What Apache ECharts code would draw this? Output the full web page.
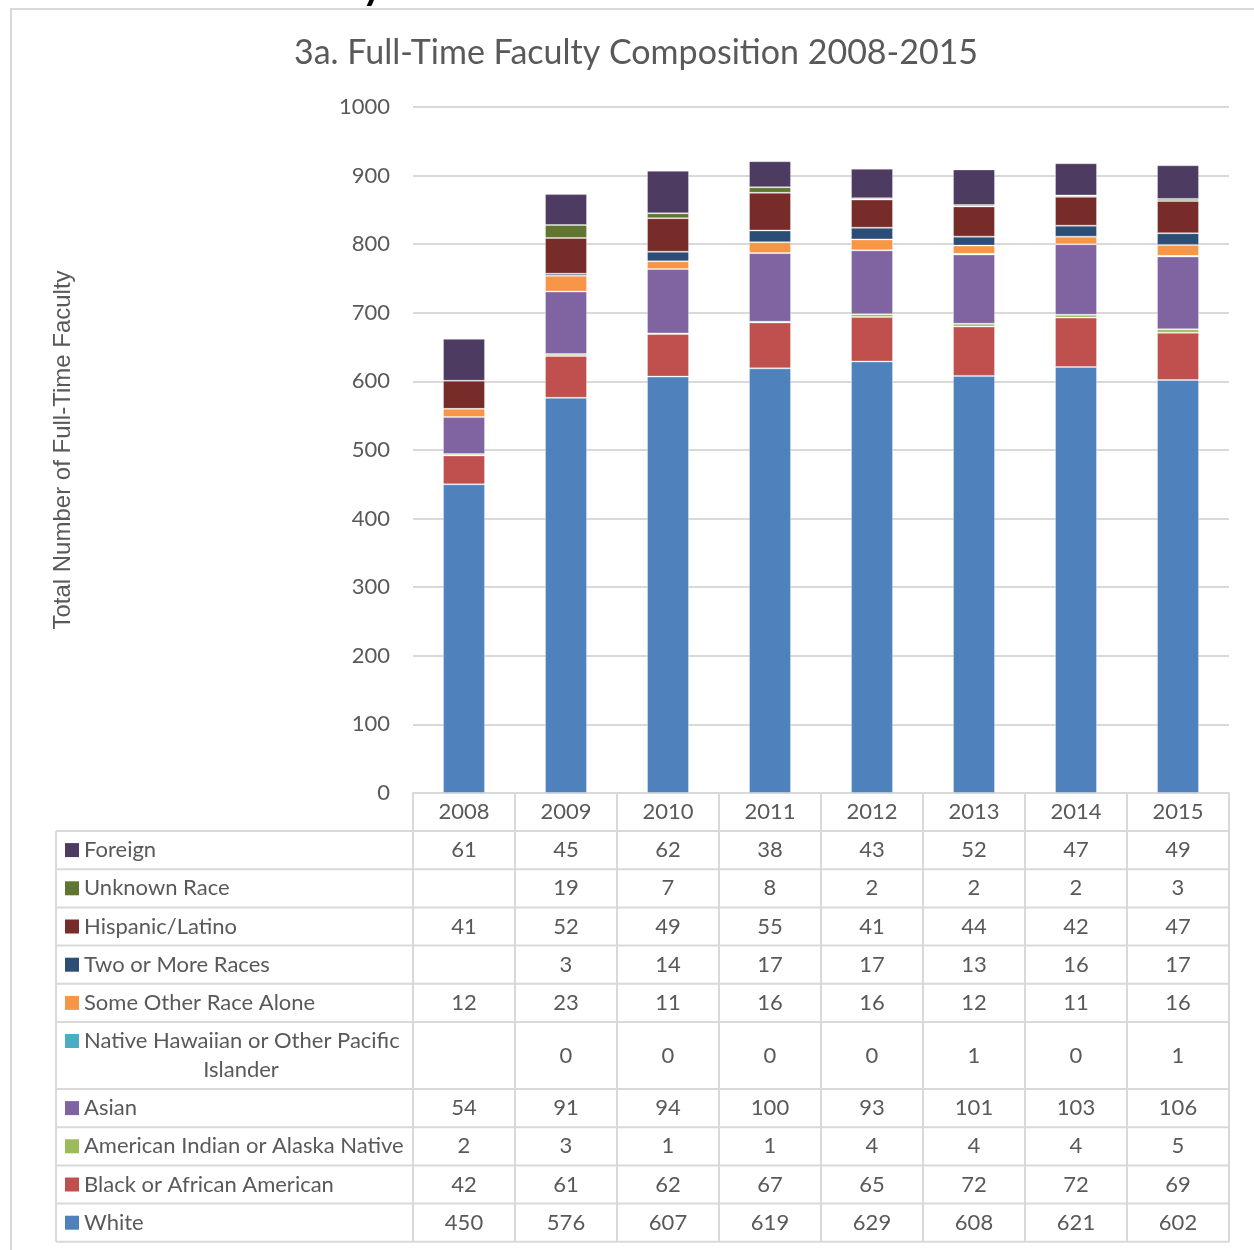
<!DOCTYPE html>
<html>
<head>
<meta charset="utf-8">
<script src="https://cdn.jsdelivr.net/npm/echarts@6/dist/echarts.min.js"></script>
<style>
  html, body { margin: 0; padding: 0; background: #fff; }
  #chart { width: 1254px; height: 1250px; }
</style>
</head>
<body>
<div id="chart"></div>
<script>
// Datos
const years = ['2008', '2009', '2010', '2011', '2012', '2013', '2014', '2015'];
const white = [450, 576, 607, 619, 629, 608, 621, 602];
const black = [42, 61, 62, 67, 65, 72, 72, 69];
const amIndian = [2, 3, 1, 1, 4, 4, 4, 5];
const asian = [54, 91, 94, 100, 93, 101, 103, 106];
const nativeHawaiian = [null, 0, 0, 0, 0, 1, 0, 1];
const someOther = [12, 23, 11, 16, 16, 12, 11, 16];
const twoOrMore = [null, 3, 14, 17, 17, 13, 16, 17];
const hispanic = [41, 52, 49, 55, 41, 44, 42, 47];
const unknownRace = [null, 19, 7, 8, 2, 2, 2, 3];
const foreign = [61, 45, 62, 38, 43, 52, 47, 49];

// orden de apilado (de abajo hacia arriba)
const seriesNames = ['White', 'Black or African American', 'American Indian or Alaska Native', 'Asian',
  'Native Hawaiian or Other Pacific Islander', 'Some Other Race Alone', 'Two or More Races',
  'Hispanic/Latino', 'Unknown Race', 'Foreign'];
const seriesData = [white, black, amIndian, asian, nativeHawaiian, someOther, twoOrMore, hispanic, unknownRace, foreign];
const colors = ['#4F81BD', '#C0504D', '#9BBB59', '#8064A2', '#4BACC6', '#F79646', '#2C4D75', '#772C2A', '#5F7530', '#4D3B62'];

const textColor = '#595959';
const lineColor = '#d9d9d9';
const font = 'Lato, "Open Sans", sans-serif';

const chart = echarts.init(document.getElementById('chart'));

const opciones = {
  animation: false,
  title: {
    text: '3a. Full-Time Faculty Composition 2008-2015',
    left: 294,
    top: 36,
    padding: 0,
    textStyle: { fontSize: 34, fontWeight: 'normal', color: textColor, fontFamily: font }
  },
  grid: { left: 413, right: 25, top: 107, bottom: 457 },
  xAxis: {
    type: 'category',
    data: years,
    axisLine: { lineStyle: { color: lineColor, width: 2 } },
    axisTick: { show: false },
    axisLabel: { show: false }
  },
  yAxis: {
    type: 'value',
    min: 0,
    max: 1000,
    interval: 100,
    name: 'Total Number of Full-Time Faculty',
    nameLocation: 'middle',
    nameGap: 338,
    nameTextStyle: { fontSize: 24, color: textColor, fontFamily: '"Liberation Sans", Arial, sans-serif' },
    axisLabel: { fontSize: 22, color: textColor, fontFamily: font, margin: 23, formatter: v => String(v) },
    splitLine: { lineStyle: { color: lineColor, width: 2 } },
    axisLine: { show: false },
    axisTick: { show: false }
  },
  series: seriesNames.map((name, i) => ({
    name,
    type: 'bar',
    stack: 'total',
    barWidth: 42,
    data: seriesData[i],
    itemStyle: { color: colors[i], borderColor: 'rgba(255,255,255,0.3)', borderWidth: 1 }
  }))
};

chart.setOption(opciones);

// Tabla de datos debajo del gráfico
function tablaDatos() {
  const els = [];
  const centers = years.map(y => chart.convertToPixel({ xAxisIndex: 0 }, y));
  const half = (centers[1] - centers[0]) / 2;
  const colL = centers[0] - half;
  const colR = centers[centers.length - 1] + half;
  const tableLeft = 56;
  const top = chart.convertToPixel({ yAxisIndex: 0 }, 0);
  const headerH = 38;
  const rowH = 38.2;
  const tallH = 67;
  const line = (x1, y1, x2, y2) => ({
    type: 'line', silent: true,
    shape: { x1, y1, x2, y2 },
    style: { stroke: lineColor, lineWidth: 2 }
  });
  const text = (x, y, t, align) => ({
    type: 'text', silent: true, x, y,
    style: {
      text: t, fill: textColor, font: '22px ' + font,
      align, textAlign: align, verticalAlign: 'middle', textVerticalAlign: 'middle'
    }
  });

  // encabezado con los años
  const headerBottom = top + headerH;
  years.forEach((y, i) => els.push(text(centers[i], top + headerH / 2, y, 'center')));
  els.push(line(tableLeft, headerBottom, colR, headerBottom));

  let y = headerBottom;
  for (let r = seriesNames.length - 1; r >= 0; r--) {
    const name = seriesNames[r];
    const tall = name.length > 35;
    const h = tall ? tallH : rowH;
    const lineY = tall ? y + 19 : y + h / 2;
    els.push({
      type: 'rect', silent: true,
      shape: { x: 65, y: lineY - 7, width: 14, height: 14 },
      style: { fill: colors[r] }
    });
    if (tall) {
      els.push(text(84, lineY, 'Native Hawaiian or Other Pacific', 'left'));
      els.push(text(241, lineY + 29, 'Islander', 'center'));
    } else {
      els.push(text(84, lineY, name, 'left'));
    }
    seriesData[r].forEach((v, i) => {
      if (v !== null) els.push(text(centers[i], y + h / 2, String(v), 'center'));
    });
    y += h;
    els.push(line(tableLeft, y, colR, y));
  }
  // líneas verticales
  els.push(line(tableLeft, headerBottom, tableLeft, y));
  for (let i = 0; i <= years.length; i++) {
    const x = colL + i * half * 2;
    els.push(line(x, top, x, y));
  }
  // marco exterior del gráfico
  els.push({
    type: 'rect', silent: true,
    shape: { x: 11, y: 9, width: 1270, height: 1270 },
    style: { fill: 'none', stroke: lineColor, lineWidth: 2 }
  });
  // resto del encabezado de la página, cortado arriba
  els.push({
    type: 'text', silent: true, x: 362, y: -34,
    style: { text: 'y', fill: '#000', font: 'bold 40px ' + font }
  });
  return els;
}

chart.setOption({ graphic: { elements: tablaDatos() } });
</script>
</body>
</html>
